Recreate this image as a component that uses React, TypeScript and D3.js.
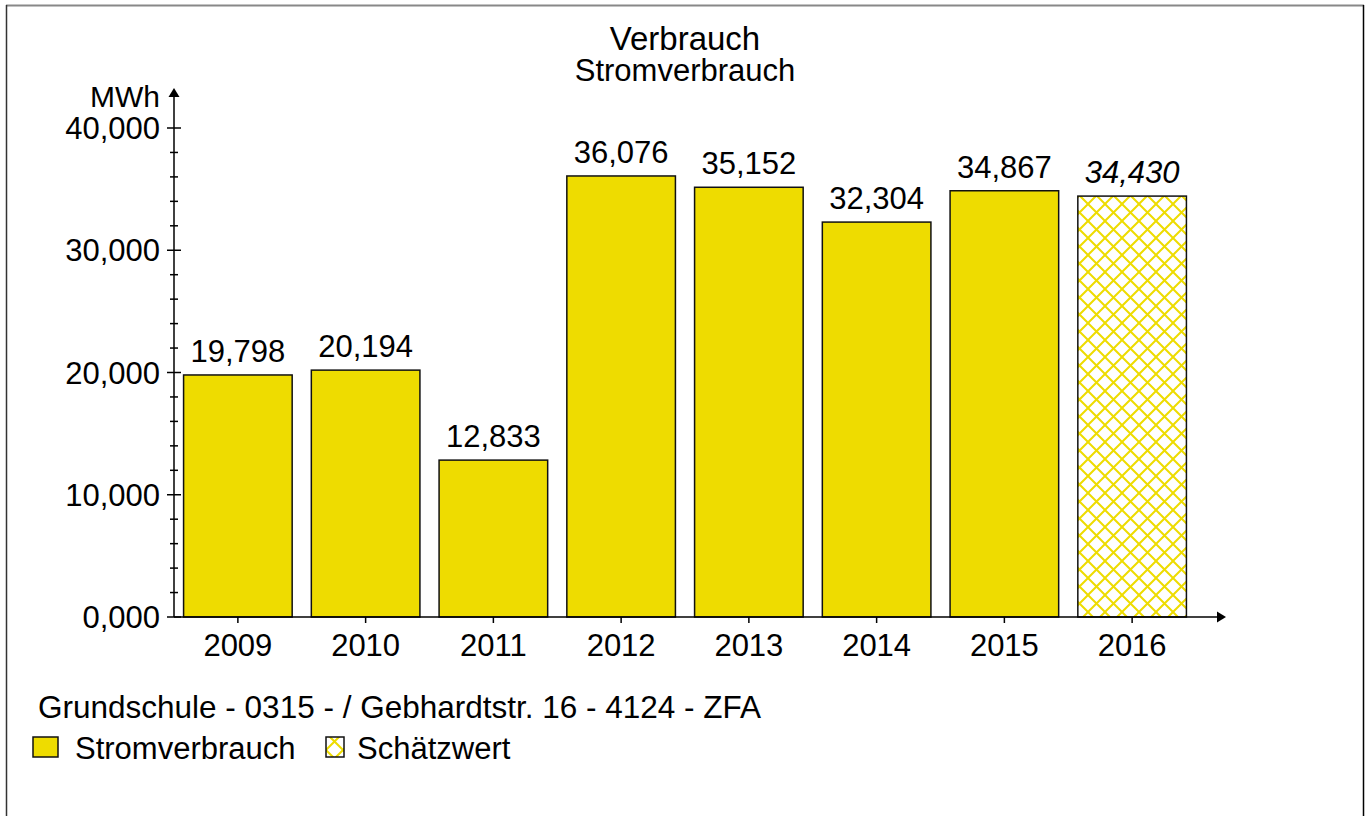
import React, { useEffect, useRef } from 'react';
import * as d3 from 'd3';

const years = ['2009', '2010', '2011', '2012', '2013', '2014', '2015', '2016'];
const values = [19798, 20194, 12833, 36076, 35152, 32304, 34867, 34430];
const estimated = [false, false, false, false, false, false, false, true];
const yTicks = [0, 10000, 20000, 30000, 40000];

const W = 1368;
const H = 816;
const FONT = '"Liberation Sans", Arial, sans-serif';
const YELLOW = '#eedc00';
const FS = 31;

const fmt = (v: number) => d3.format(',')(v);
const fmtTick = (v: number) => (v === 0 ? '0,000' : d3.format(',')(v));

const drawChart = (el: SVGSVGElement) => {
  const svg = d3.select(el);
  svg.selectAll('*').remove();
  svg.style('font-family', FONT);

  // hatch pattern for estimated values
  const defs = svg.append('defs');
  const pat = defs
    .append('pattern')
    .attr('id', 'hatch')
    .attr('patternUnits', 'userSpaceOnUse')
    .attr('width', 17)
    .attr('height', 17);
  pat.append('rect').attr('width', 17).attr('height', 17).attr('fill', '#fff');
  pat
    .append('path')
    .attr('d', 'M-2,-2L19,19M19,-2L-2,19')
    .attr('stroke', YELLOW)
    .attr('stroke-width', 2)
    .attr('fill', 'none');

  const patSmall = defs
    .append('pattern')
    .attr('id', 'hatchSmall')
    .attr('patternUnits', 'userSpaceOnUse')
    .attr('width', 17)
    .attr('height', 17)
    .attr('x', 326)
    .attr('y', 733);
  patSmall.append('rect').attr('width', 17).attr('height', 17).attr('fill', '#fff');
  patSmall
    .append('path')
    .attr('d', 'M-2,-2L19,19M19,-2L-2,19')
    .attr('stroke', YELLOW)
    .attr('stroke-width', 2);

  // frame
  svg.append('line').attr('x1', 6).attr('x2', 1364).attr('y1', 5.5).attr('y2', 5.5).attr('stroke', '#888').attr('stroke-width', 2);
  svg.append('line').attr('x1', 6.5).attr('x2', 6.5).attr('y1', 5).attr('y2', H).attr('stroke', '#333').attr('stroke-width', 1.5);
  svg.append('line').attr('x1', 1363.5).attr('x2', 1363.5).attr('y1', 5).attr('y2', H).attr('stroke', '#000').attr('stroke-width', 1.5);

  const x = d3.scaleBand<string>().domain(years).range([174, 1196]).paddingInner(0.15).paddingOuter(0.075);
  const y = d3.scaleLinear().domain([0, 40000]).range([617, 128]);

  // titles
  svg.append('text').attr('x', 685).attr('y', 50).attr('text-anchor', 'middle').attr('font-size', 33).text('Verbrauch');
  svg.append('text').attr('x', 685).attr('y', 81).attr('text-anchor', 'middle').attr('font-size', FS).text('Stromverbrauch');

  // bars
  const g = svg.append('g');
  g.selectAll('rect.bar')
    .data(values)
    .join('rect')
    .attr('class', 'bar')
    .attr('x', (_, i) => x(years[i])!)
    .attr('width', x.bandwidth())
    .attr('y', d => y(d))
    .attr('height', d => y(0) - y(d))
    .attr('fill', (_, i) => (estimated[i] ? 'url(#hatch)' : YELLOW))
    .attr('stroke', '#111')
    .attr('stroke-width', 1.5);

  g.selectAll('text.val')
    .data(values)
    .join('text')
    .attr('class', 'val')
    .attr('x', (_, i) => x(years[i])! + x.bandwidth() / 2)
    .attr('y', d => y(d) - 13)
    .attr('text-anchor', 'middle')
    .attr('font-size', FS)
    .attr('font-style', (_, i) => (estimated[i] ? 'italic' : 'normal'))
    .text(d => fmt(d));

  // y axis
  const ax = svg.append('g').attr('stroke', '#000');
  ax.append('line').attr('x1', 174).attr('x2', 174).attr('y1', 617).attr('y2', 96).attr('stroke-width', 1.5);
  ax.append('path').attr('d', 'M174,88L168.5,97L179.5,97Z').attr('fill', '#000').attr('stroke', 'none');
  const minor = d3.range(0, 40001, 2000);
  ax.selectAll('line.tk')
    .data(minor)
    .join('line')
    .attr('class', 'tk')
    .attr('x1', d => (d % 10000 === 0 ? 167 : 170))
    .attr('x2', d => (d % 10000 === 0 ? 181 : 178))
    .attr('y1', d => y(d))
    .attr('y2', d => y(d))
    .attr('stroke-width', 1.5);
  svg.selectAll('text.yt')
    .data(yTicks)
    .join('text')
    .attr('class', 'yt')
    .attr('x', 160)
    .attr('y', d => y(d) + 11)
    .attr('text-anchor', 'end')
    .attr('font-size', FS)
    .text(d => fmtTick(d));
  svg.append('text').attr('x', 160).attr('y', 107).attr('text-anchor', 'end').attr('font-size', 30).text('MWh');

  // x axis
  ax.append('line').attr('x1', 174).attr('x2', 1218).attr('y1', 617).attr('y2', 617).attr('stroke-width', 1.5);
  ax.append('path').attr('d', 'M1226,617L1217,611.5L1217,622.5Z').attr('fill', '#000').attr('stroke', 'none');
  ax.selectAll('line.xt')
    .data(years)
    .join('line')
    .attr('class', 'xt')
    .attr('x1', d => x(d)! + x.bandwidth() / 2)
    .attr('x2', d => x(d)! + x.bandwidth() / 2)
    .attr('y1', 617)
    .attr('y2', 623)
    .attr('stroke-width', 1.5);
  svg.selectAll('text.xl')
    .data(years)
    .join('text')
    .attr('class', 'xl')
    .attr('x', d => x(d)! + x.bandwidth() / 2)
    .attr('y', 656)
    .attr('text-anchor', 'middle')
    .attr('font-size', FS)
    .text(d => d);

  // footer + legend
  svg.append('text').attr('x', 38).attr('y', 718).attr('font-size', 31.5).text('Grundschule - 0315 - / Gebhardtstr. 16 - 4124 - ZFA');
  svg.append('rect').attr('x', 33).attr('y', 737).attr('width', 25).attr('height', 20).attr('fill', YELLOW).attr('stroke', '#111').attr('stroke-width', 1.5);
  svg.append('text').attr('x', 75).attr('y', 759).attr('font-size', FS).text('Stromverbrauch');
  svg.append('rect').attr('x', 326).attr('y', 737).attr('width', 18).attr('height', 20).attr('fill', 'url(#hatchSmall)').attr('stroke', '#111').attr('stroke-width', 1.5);
  svg.append('text').attr('x', 357).attr('y', 759).attr('font-size', FS).text('Schätzwert');
};

export default function App() {
  const ref = useRef<SVGSVGElement>(null);
  useEffect(() => {
    if (ref.current) drawChart(ref.current);
  }, []);
  return (
    <svg
      ref={ref}
      width={W}
      height={H}
      style={{ position: 'absolute', left: 0, top: 0, background: '#fff' }}
    />
  );
}
